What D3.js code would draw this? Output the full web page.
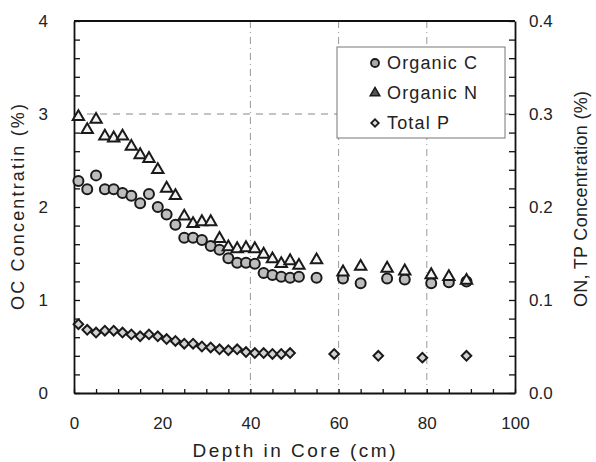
<!DOCTYPE html>
<html lang="en">
<head>
<meta charset="UTF-8" />
<title>Core profile</title>
<script src="https://d3js.org/d3.v7.min.js"></script>
<style>
  body { margin: 0; background: #fff; }
  svg text { font-family: "Liberation Sans", Arial, sans-serif; fill: #222; }
</style>
</head>
<body>
<svg width="596" height="462"></svg>
<script>
// depths (cm) for organic C / N and for total P
const depthCN = [1, 3, 5, 7, 9, 11, 13, 15, 17, 19, 21, 23, 25, 27, 29, 31, 33, 35, 37, 39,
                 41, 43, 45, 47, 49, 51, 55, 61, 65, 71, 75, 81, 85, 89];
const organicC = [2.28, 2.19, 2.34, 2.19, 2.19, 2.15, 2.12, 2.04, 2.14, 2.00, 1.92, 1.81, 1.67, 1.67,
                  1.645, 1.58, 1.54, 1.45, 1.40, 1.40, 1.39, 1.29, 1.27, 1.25, 1.24, 1.25, 1.24,
                  1.23, 1.18, 1.23, 1.22, 1.18, 1.19, 1.20];
const organicN = [0.297, 0.283, 0.294, 0.276, 0.274, 0.276, 0.265, 0.256, 0.252, 0.240, 0.220,
                  0.212, 0.190, 0.182, 0.184, 0.184, 0.166, 0.157, 0.155, 0.156, 0.155, 0.149,
                  0.144, 0.139, 0.142, 0.137, 0.143, 0.130, 0.136, 0.134, 0.131, 0.127, 0.125, 0.121];
const depthP = [1, 3, 5, 7, 9, 11, 13, 15, 17, 19, 21, 23, 25, 27, 29, 31, 33, 35, 37, 39,
                41, 43, 45, 47, 49, 59, 69, 79, 89];
const totalP = [0.074, 0.068, 0.065, 0.067, 0.067, 0.065, 0.063, 0.061, 0.063, 0.061, 0.058,
                0.056, 0.053, 0.053, 0.050, 0.049, 0.047, 0.046, 0.047, 0.044, 0.043, 0.043,
                0.042, 0.042, 0.043, 0.042, 0.040, 0.038, 0.040];

const xTicks = d3.range(0, 21).map(i => i * 5);
const yLeftTicks = d3.range(0, 21).map(i => i / 5);
const yRightTicks = d3.range(0, 21).map(i => i / 50);
const legendLabels = ["Organic C", "Organic N", "Total P"];

const svg = d3.select("svg");
const plotL = 74, plotR = 515, plotT = 21, plotB = 393;

const x = d3.scaleLinear().domain([0, 100]).range([plotL, plotR]);
const yL = d3.scaleLinear().domain([0, 4]).range([plotB, plotT]);
const yR = d3.scaleLinear().domain([0, 0.4]).range([plotB, plotT]);

// grid lines
const grid = svg.append("g");
grid.selectAll("line.v")
  .data([40, 60, 80])
  .enter().append("line")
  .attr("x1", d => x(d)).attr("x2", d => x(d))
  .attr("y1", plotT).attr("y2", plotB)
  .attr("stroke", "#999").attr("stroke-width", 1)
  .attr("stroke-dasharray", "7,4,1,4");
grid.append("line")
  .attr("x1", plotL).attr("x2", plotR)
  .attr("y1", yL(3)).attr("y2", yL(3))
  .attr("stroke", "#888").attr("stroke-width", 1)
  .attr("stroke-dasharray", "7,6");

// axes, ticks pointing inward
function styleAxis(g) {
  g.select(".domain").attr("stroke", "#111").attr("stroke-width", 1.8);
  g.selectAll(".tick line").attr("stroke", "#111").attr("stroke-width", 1.3);
  g.selectAll(".tick text").style("font-size", "17px").attr("fill", "#222");
}

svg.append("g")
  .attr("transform", `translate(${plotL},0)`)
  .call(d3.axisLeft(yL).tickValues(yLeftTicks).tickSizeInner(-6).tickSizeOuter(0)
    .tickPadding(26).tickFormat((d, i) => i % 5 === 0 ? d3.format("d")(d) : ""))
  .call(styleAxis);

svg.append("g")
  .attr("transform", `translate(${plotR},0)`)
  .call(d3.axisRight(yR).tickValues(yRightTicks).tickSizeInner(-6).tickSizeOuter(0)
    .tickPadding(14).tickFormat((d, i) => i % 5 === 0 ? d3.format(".1f")(d) : ""))
  .call(styleAxis);

svg.append("g")
  .attr("transform", `translate(0,${plotB})`)
  .call(d3.axisBottom(x).tickValues(xTicks).tickSizeInner(-4).tickSizeOuter(0)
    .tickPadding(24).tickFormat((d, i) => i % 4 === 0 ? d : ""))
  .call(styleAxis);

svg.append("line")
  .attr("x1", plotL).attr("x2", plotR).attr("y1", plotT).attr("y2", plotT)
  .attr("stroke", "#111").attr("stroke-width", 1.8);

// axis titles
svg.append("text")
  .attr("transform", "translate(24,207) rotate(-90)")
  .attr("text-anchor", "middle")
  .attr("textLength", 206).attr("lengthAdjust", "spacing")
  .style("font-size", "18px")
  .text("OC Concentratin (%)");

svg.append("text")
  .attr("transform", "translate(587,199) rotate(-90)")
  .attr("text-anchor", "middle")
  .attr("textLength", 216).attr("lengthAdjust", "spacing")
  .style("font-size", "18px")
  .text("ON, TP Concentration (%)");

svg.append("text")
  .attr("x", 294).attr("y", 457)
  .attr("text-anchor", "middle")
  .attr("textLength", 203).attr("lengthAdjust", "spacing")
  .style("font-size", "19px")
  .text("Depth in Core (cm)");

// data marks
const stroke = "#1a1a1a";
const diamond = d3.symbol().type(d3.symbolSquare).size(46);
const tri = d3.symbol().type(d3.symbolTriangle).size(56);

svg.append("g").selectAll("path")
  .data(depthP.map((d, i) => [d, totalP[i]]))
  .enter().append("path")
  .attr("d", diamond)
  .attr("transform", d => `translate(${x(d[0])},${yR(d[1])}) rotate(45)`)
  .attr("fill", "#d2d2d2").attr("stroke", stroke).attr("stroke-width", 2);

svg.append("g").selectAll("circle")
  .data(depthCN.map((d, i) => [d, organicC[i]]))
  .enter().append("circle")
  .attr("cx", d => x(d[0])).attr("cy", d => yL(d[1])).attr("r", 5)
  .attr("fill", "#bdbdbd").attr("stroke", stroke).attr("stroke-width", 2);

svg.append("g").selectAll("path")
  .data(depthCN.map((d, i) => [d, organicN[i]]))
  .enter().append("path")
  .attr("d", tri)
  .attr("transform", d => `translate(${x(d[0])},${yR(d[1])})`)
  .attr("fill", "#f2f2f2").attr("stroke", stroke).attr("stroke-width", 2);

// legend
const lg = svg.append("g");
lg.append("rect")
  .attr("x", 337).attr("y", 47).attr("width", 168).attr("height", 91)
  .attr("fill", "#fff").attr("stroke", "#777").attr("stroke-width", 1);
const rows = [63, 93, 123];
lg.append("circle").attr("cx", 375).attr("cy", rows[0]).attr("r", 4)
  .attr("fill", "#aaa").attr("stroke", stroke).attr("stroke-width", 1.8);
lg.append("path").attr("d", d3.symbol().type(d3.symbolTriangle).size(40))
  .attr("transform", `translate(375,${rows[1]})`)
  .attr("fill", "#555").attr("stroke", stroke).attr("stroke-width", 1.5);
lg.append("path").attr("d", d3.symbol().type(d3.symbolSquare).size(28))
  .attr("transform", `translate(375,${rows[2]}) rotate(45)`)
  .attr("fill", "#ddd").attr("stroke", stroke).attr("stroke-width", 1.8);
lg.selectAll("text.lab")
  .data(legendLabels)
  .enter().append("text")
  .attr("x", 387).attr("y", (d, i) => rows[i] + 6)
  .attr("textLength", (d, i) => i < 2 ? 90 : 62).attr("lengthAdjust", "spacing")
  .style("font-size", "18px")
  .text(d => d);
</script>
</body>
</html>
